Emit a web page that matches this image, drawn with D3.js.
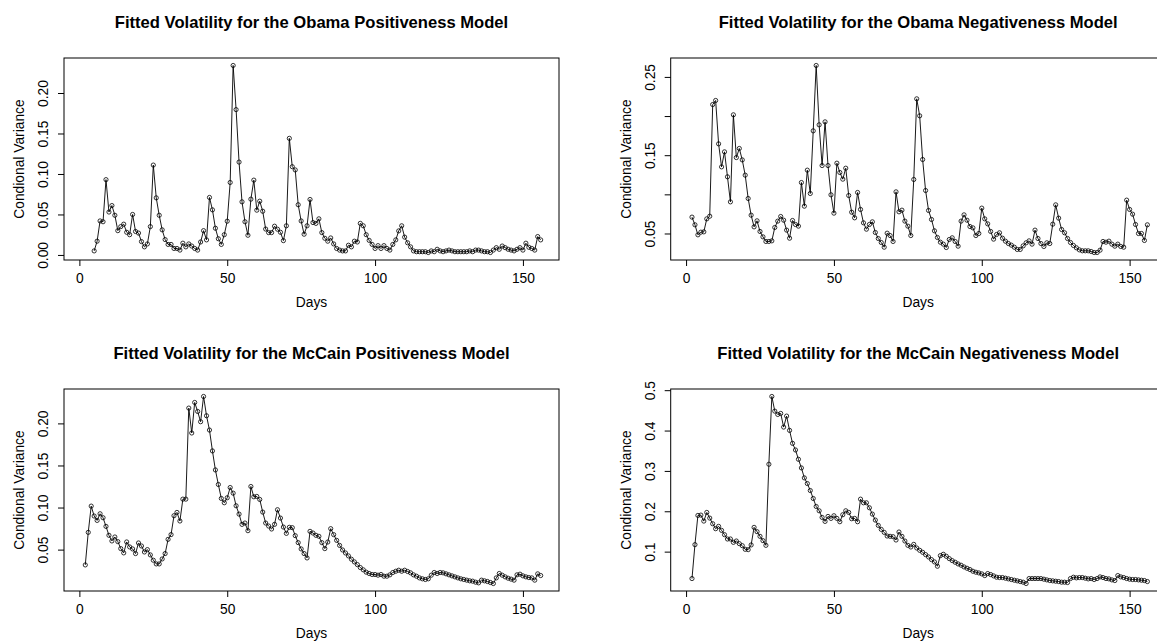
<!DOCTYPE html>
<html>
<head>
<meta charset="utf-8">
<script src="https://cdn.jsdelivr.net/npm/d3@7"></script>
<style>
	body { margin: 0; background: #fff; }
	svg { display: block; font-family: "Liberation Sans", Arial, Helvetica, sans-serif; }
</style>
</head>
<body>
<div id="chart"></div>
<script>
// fitted conditional variance per day (index 1..156, null = no value)
const obamaPos = [
	null, null, null, null, 0.005, 0.017, 0.042, 0.041, 0.093, 0.053,
	0.061, 0.049, 0.030, 0.035, 0.038, 0.028, 0.025, 0.050, 0.029, 0.027,
	0.0165, 0.010, 0.0136, 0.035, 0.111, 0.0705, 0.049, 0.031, 0.019, 0.013,
	0.013, 0.008, 0.008, 0.006, 0.0145, 0.010, 0.0136, 0.011, 0.008, 0.006,
	0.016, 0.030, 0.0186, 0.071, 0.0557, 0.033, 0.020, 0.013, 0.025, 0.0417,
	0.0895, 0.234, 0.1795, 0.1147, 0.0656, 0.041, 0.0243, 0.0689, 0.0924, 0.0553,
	0.0664, 0.054, 0.032, 0.0276, 0.0276, 0.0355, 0.0318, 0.028, 0.0177, 0.036,
	0.144, 0.109, 0.105, 0.062, 0.042, 0.0256, 0.036, 0.0685, 0.040, 0.039,
	0.0446, 0.0276, 0.0206, 0.017, 0.021, 0.0136, 0.008, 0.006, 0.005, 0.005,
	0.012, 0.010, 0.017, 0.016, 0.039, 0.036, 0.025, 0.018, 0.013, 0.008,
	0.0115, 0.008, 0.0115, 0.008, 0.006, 0.013, 0.0186, 0.0297, 0.036, 0.022,
	0.015, 0.010, 0.005, 0.004, 0.004, 0.004, 0.004, 0.003, 0.005, 0.004,
	0.007, 0.005, 0.004, 0.005, 0.006, 0.005, 0.004, 0.004, 0.004, 0.004,
	0.004, 0.005, 0.004, 0.006, 0.006, 0.005, 0.004, 0.004, 0.003, 0.006,
	0.009, 0.007, 0.011, 0.009, 0.007, 0.006, 0.005, 0.007, 0.009, 0.006,
	0.0145, 0.0095, 0.008, 0.006, 0.0227, 0.0186
];
const obamaNeg = [
	null, 0.0709, 0.0611, 0.0483, 0.0517, 0.0521, 0.0687, 0.0721, 0.2147, 0.2199,
	0.1645, 0.1351, 0.1543, 0.1224, 0.0904, 0.2016, 0.147, 0.1586, 0.144, 0.1245,
	0.0947, 0.0734, 0.0585, 0.0662, 0.0526, 0.0457, 0.0398, 0.0398, 0.0406, 0.0577,
	0.0658, 0.0717, 0.067, 0.0543, 0.044, 0.0666, 0.0615, 0.0594, 0.1151, 0.0849,
	0.1309, 0.1011, 0.1811, 0.2646, 0.1888, 0.1368, 0.1926, 0.1368, 0.0994, 0.076,
	0.1398, 0.1279, 0.1194, 0.1334, 0.0985, 0.0772, 0.07, 0.1024, 0.0807, 0.0636,
	0.0555, 0.0615, 0.0649, 0.0513, 0.0436, 0.0385, 0.0325, 0.0504, 0.0474, 0.0398,
	0.1032, 0.0777, 0.0798, 0.0658, 0.0594, 0.0474, 0.119, 0.222, 0.2003, 0.1445,
	0.1049, 0.0794, 0.0679, 0.0534, 0.0449, 0.0389, 0.0364, 0.0321, 0.0423, 0.0445,
	0.0398, 0.0338, 0.0658, 0.0738, 0.067, 0.0589, 0.0572, 0.0474, 0.05, 0.0824,
	0.0687, 0.0623, 0.0526, 0.0428, 0.0487, 0.0509, 0.044, 0.0402, 0.0372, 0.0351,
	0.0325, 0.0296, 0.0296, 0.0342, 0.0381, 0.0406, 0.0364, 0.0543, 0.0436, 0.0372,
	0.0334, 0.0381, 0.0372, 0.0619, 0.0866, 0.0696, 0.0551, 0.0509, 0.0436, 0.0385,
	0.0347, 0.0317, 0.0291, 0.0279, 0.0279, 0.0279, 0.027, 0.0257, 0.0257, 0.0287,
	0.0398, 0.0389, 0.0402, 0.0364, 0.0338, 0.0364, 0.0334, 0.0325, 0.0926, 0.0807,
	0.0747, 0.0615, 0.05, 0.05, 0.0411, 0.0611
];
const mccainPos = [
	null, 0.0318, 0.0705, 0.1017, 0.0899, 0.0847, 0.0926, 0.0879, 0.0776, 0.067,
	0.0603, 0.065, 0.0595, 0.0512, 0.0461, 0.0591, 0.0532, 0.0508, 0.0453, 0.0579,
	0.0543, 0.0472, 0.05, 0.0437, 0.0374, 0.033, 0.033, 0.0389, 0.0453, 0.0622,
	0.0678, 0.0903, 0.0942, 0.084, 0.11, 0.11, 0.2182, 0.1886, 0.2249, 0.2142,
	0.202, 0.232, 0.2091, 0.1921, 0.1673, 0.1447, 0.1274, 0.1108, 0.1057, 0.1116,
	0.1238, 0.1171, 0.1021, 0.0922, 0.08, 0.0816, 0.0725, 0.125, 0.1128, 0.1132,
	0.1096, 0.0946, 0.0816, 0.078, 0.0745, 0.08, 0.0974, 0.0875, 0.0768, 0.0693,
	0.0765, 0.0761, 0.0666, 0.0583, 0.0508, 0.0453, 0.0401, 0.0717, 0.0697, 0.067,
	0.0658, 0.0583, 0.0512, 0.059, 0.0749, 0.0678, 0.061, 0.055, 0.0496, 0.046,
	0.0425, 0.0386, 0.0354, 0.0322, 0.0287, 0.026, 0.0232, 0.0216, 0.0204, 0.0204,
	0.0196, 0.0204, 0.0184, 0.0184, 0.02, 0.0228, 0.0243, 0.0255, 0.0243, 0.0255,
	0.024, 0.0224, 0.02, 0.0184, 0.0164, 0.0153, 0.0145, 0.0153, 0.0196, 0.0228,
	0.0216, 0.0228, 0.0224, 0.0212, 0.02, 0.0188, 0.0176, 0.0164, 0.0153, 0.0145,
	0.0137, 0.0129, 0.0125, 0.0113, 0.0105, 0.0137, 0.0129, 0.0121, 0.0109, 0.0097,
	0.0164, 0.0216, 0.0196, 0.0176, 0.016, 0.0149, 0.0137, 0.02, 0.0208, 0.0188,
	0.0176, 0.0168, 0.0164, 0.0137, 0.0212, 0.0192
];
const mccainNeg = [
	null, 0.0333, 0.1173, 0.1897, 0.1905, 0.1757, 0.1971, 0.1831, 0.1691, 0.1568,
	0.1626, 0.1527, 0.142, 0.1313, 0.1313, 0.123, 0.1263, 0.1198, 0.1148, 0.1058,
	0.1049, 0.1165, 0.1601, 0.1494, 0.1379, 0.1272, 0.1156, 0.3165, 0.4844, 0.4481,
	0.4399, 0.4424, 0.4086, 0.4358, 0.4004, 0.3683, 0.3519, 0.3288, 0.3074, 0.2827,
	0.2687, 0.2514, 0.2317, 0.2119, 0.2012, 0.1848, 0.1749, 0.1872, 0.1823, 0.1889,
	0.1823, 0.1741, 0.1914, 0.2012, 0.1971, 0.1815, 0.1823, 0.1741, 0.23, 0.221,
	0.221, 0.2086, 0.193, 0.1782, 0.165, 0.1551, 0.1477, 0.1387, 0.1379, 0.137,
	0.1288, 0.1486, 0.1379, 0.1263, 0.1156, 0.1115, 0.118, 0.109, 0.1033, 0.0984,
	0.0926, 0.0868, 0.0802, 0.0745, 0.0638, 0.0901, 0.0934, 0.0885, 0.0827, 0.0778,
	0.0737, 0.0695, 0.0663, 0.0621, 0.0588, 0.0556, 0.0514, 0.049, 0.0473, 0.0449,
	0.0407, 0.0457, 0.0432, 0.0399, 0.0366, 0.0358, 0.0358, 0.0342, 0.0325, 0.0309,
	0.0292, 0.0276, 0.0259, 0.0243, 0.021, 0.0333, 0.0333, 0.0333, 0.0333, 0.0333,
	0.0317, 0.03, 0.0284, 0.0276, 0.0267, 0.0259, 0.0243, 0.0243, 0.0235, 0.0333,
	0.0366, 0.035, 0.0358, 0.0358, 0.0342, 0.0325, 0.0333, 0.0309, 0.0333, 0.0374,
	0.0358, 0.0333, 0.0325, 0.03, 0.0284, 0.0407, 0.0374, 0.0358, 0.0333, 0.0317,
	0.0309, 0.0309, 0.03, 0.0292, 0.0284, 0.0259
];

const titles = [
	"Fitted Volatility for the Obama Positiveness Model",
	"Fitted Volatility for the Obama Negativeness Model",
	"Fitted Volatility for the McCain Positiveness Model",
	"Fitted Volatility for the McCain Negativeness Model"
];
const xLabel = "Days";
const yLabel = "Condional Variance";
const xTicks = [0, 50, 100, 150];
const yTicks = [
	[0, 0.05, 0.10, 0.15, 0.20],
	[0.05, 0.10, 0.15, 0.20, 0.25],
	[0.05, 0.10, 0.15, 0.20],
	[0.1, 0.2, 0.3, 0.4, 0.5]
];
const yTickLabels = [
	["0.00", "0.05", "0.10", "0.15", "0.20"],
	["0.05", "", "0.15", "", "0.25"],
	["0.05", "0.10", "0.15", "0.20"],
	["0.1", "0.2", "0.3", "0.4", "0.5"]
];
const series = [obamaPos, obamaNeg, mccainPos, mccainNeg];
const days = d3.range(1, series[0].length + 1);

// layout
const width = 1157, height = 641;
const plotW = 495, plotH = 202;
const cells = [
	{ left: 64, top: 58 },
	{ left: 670.7, top: 58 },
	{ left: 64, top: 389 },
	{ left: 670.7, top: 389 }
];
const fontSize = 13.8;

const svg = d3.select("#chart").append("svg")
	.attr("width", width)
	.attr("height", height);
svg.append("rect").attr("width", width).attr("height", height).attr("fill", "#fff");

// R style range padding (4% on each side)
function padded(ext) {
	const p = (ext[1] - ext[0]) * 0.04;
	return [ext[0] - p, ext[1] + p];
}

function drawPanel(i) {
	const cell = cells[i];
	const values = series[i];
	const pts = days.map((d, k) => [d, values[k]]);

	const g = svg.append("g").attr("transform", `translate(${cell.left},${cell.top})`);

	const x = d3.scaleLinear().domain(padded(d3.extent(days))).range([0, plotW]);
	const y = d3.scaleLinear()
		.domain(padded(d3.extent(values.filter(v => v != null))))
		.range([plotH, 0]);

	// line + open circles (type = "o")
	const line = d3.line()
		.defined(d => d[1] != null)
		.x(d => x(d[0]))
		.y(d => y(d[1]));
	g.append("path")
		.attr("d", line(pts))
		.attr("fill", "none")
		.attr("stroke", "#000")
		.attr("stroke-width", 0.9);
	g.selectAll("circle").data(pts.filter(d => d[1] != null)).enter().append("circle")
		.attr("cx", d => x(d[0]))
		.attr("cy", d => y(d[1]))
		.attr("r", 2.1)
		.attr("fill", "none")
		.attr("stroke", "#000")
		.attr("stroke-width", 0.8);

	// box
	g.append("rect")
		.attr("width", plotW)
		.attr("height", plotH)
		.attr("fill", "none")
		.attr("stroke", "#000")
		.attr("stroke-width", 1);

	// X axis
	const xAxis = g.append("g")
		.attr("transform", `translate(0,${plotH})`)
		.call(d3.axisBottom(x).tickValues(xTicks).tickSize(6).tickSizeOuter(0).tickPadding(7.5));
	xAxis.select(".domain").remove();
	xAxis.selectAll("text").attr("font-size", fontSize).attr("font-family", null).attr("fill", "#000");

	// Y axis, labels rotated like R's las = 0
	const yAxis = g.append("g")
		.call(d3.axisLeft(y).tickValues(yTicks[i]).tickSize(6).tickSizeOuter(0)
			.tickFormat((d, k) => yTickLabels[i][k]));
	yAxis.select(".domain").remove();
	yAxis.selectAll("text")
		.attr("font-size", fontSize)
		.attr("font-family", null)
		.attr("fill", "#000")
		.attr("x", 0)
		.attr("dy", 0)
		.attr("text-anchor", "middle")
		.attr("transform", "translate(-15.7,0) rotate(-90)");

	// titles
	g.append("text")
		.attr("x", plotW / 2)
		.attr("y", -30)
		.attr("text-anchor", "middle")
		.attr("font-size", 16.6)
		.attr("font-weight", "bold")
		.text(titles[i]);
	g.append("text")
		.attr("x", plotW / 2)
		.attr("y", plotH + 47)
		.attr("text-anchor", "middle")
		.attr("font-size", fontSize)
		.text(xLabel);
	g.append("text")
		.attr("transform", `translate(-40,${plotH / 2}) rotate(-90)`)
		.attr("text-anchor", "middle")
		.attr("font-size", fontSize)
		.text(yLabel);
}

for (let i = 0; i < series.length; i++) {
	drawPanel(i);
}
</script>
</body>
</html>
